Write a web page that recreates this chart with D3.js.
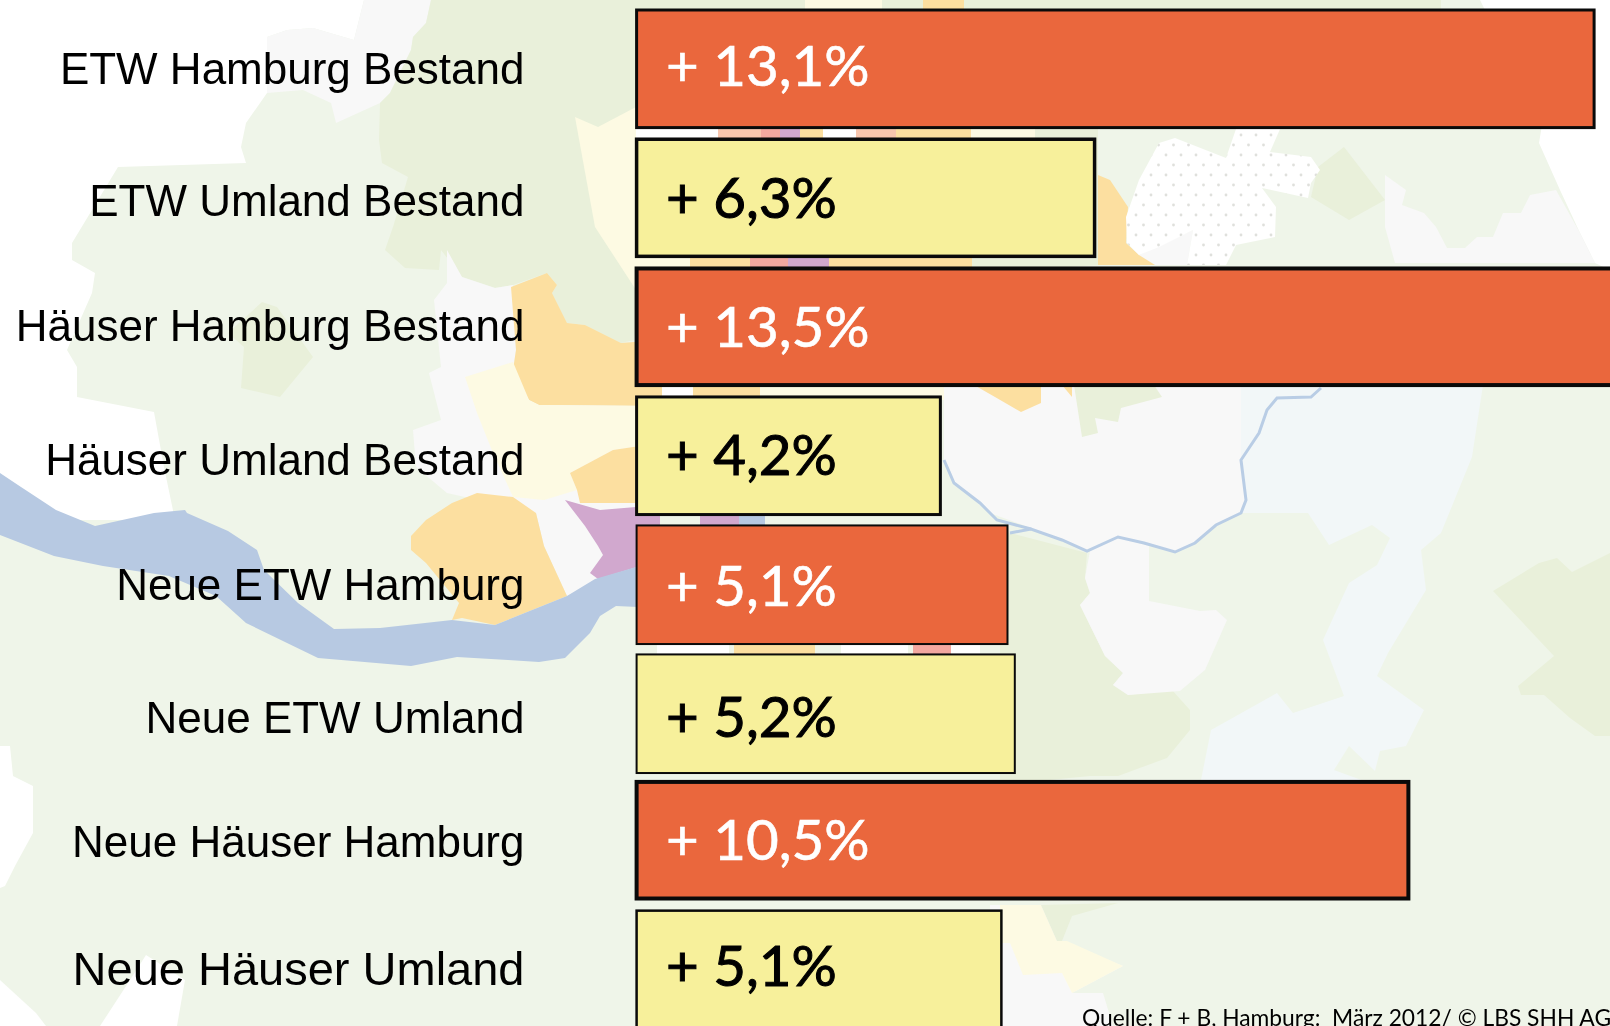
<!DOCTYPE html>
<html>
<head>
<meta charset="utf-8">
<script src="https://cdn.jsdelivr.net/npm/d3@7"></script>
<style>
  html, body { margin: 0; padding: 0; background: #fff; overflow: hidden; }
  svg { display: block; filter: blur(0.5px); }
</style>
</head>
<body>
<div id="chart"></div>
<script>
const categories = [
    'ETW Hamburg Bestand',
    'ETW Umland Bestand',
    'Häuser Hamburg Bestand',
    'Häuser Umland Bestand',
    'Neue ETW Hamburg',
    'Neue ETW Umland',
    'Neue Häuser Hamburg',
    'Neue Häuser Umland'
];

// bar lengths as measured in the picture, in percent
const values = [13.1, 6.28, 13.5, 4.17, 5.08, 5.18, 10.57, 5.0];

// printed on the bars
const valueLabels = ['+ 13,1%', '+ 6,3%', '+ 13,5%', '+ 4,2%', '+ 5,1%', '+ 5,2%', '+ 10,5%', '+ 5,1%'];

const regions = ['Hamburg', 'Umland', 'Hamburg', 'Umland', 'Hamburg', 'Umland', 'Hamburg', 'Umland'];

const source = 'Quelle: F + B, Hamburg:  März 2012/ © LBS SHH AG';

const width = 1610;
const height = 1026;

const colors = {
    Hamburg: '#ea673d',
    Umland: '#f7f09b',
    land: '#eff5e9',
    green: '#e9f0da',
    grey: '#f8f8f8',
    blue: '#f2f7f8',
    pale: '#fdfae3',
    orange: '#fcdfa0',
    salmon: '#f8c6ae',
    river: '#b7c9e2',
    purple: '#d1a8ce',
    pink: '#f3a8a0',
    white: '#ffffff'
};

// the faint map behind the bars, traced by hand: [colour, outline]
const mapShapes = [
    ['land', [[267,93],[246,123],[241,147],[246,163],[118,167],[72,243],[72,260],[95,273],[92,293],[67,350],[77,367],[77,397],[154,412],[164,467],[175,520],[0,520],[0,1026],[1610,1026],[1610,270],[1595,263],[1580,233],[1560,190],[1539,143],[1542,125],[1480,0],[364,0],[354,40],[313,28],[287,30],[267,37]]],
    ['grey', [[364,0],[431,0],[426,23],[413,37],[411,50],[390,93],[380,103],[336,123],[331,103],[303,90],[267,93],[267,37],[287,30],[313,28],[354,40]]],
    ['green', [[431,0],[1441,0],[1441,129],[1098,129],[1098,265],[640,296],[634,340],[621,343],[585,325],[567,323],[552,293],[557,285],[547,273],[513,285],[495,288],[462,277],[441,250],[439,270],[405,268],[385,250],[393,227],[408,177],[382,163],[379,140],[380,103],[390,93],[411,50],[413,37],[426,23]]],
    ['green', [[228,333],[262,302],[277,307],[313,357],[280,397],[241,388],[244,347]]],
    ['pale', [[575,117],[598,127],[636,107],[660,107],[660,296],[640,296],[595,227]]],
    ['grey', [[447,250],[462,277],[495,288],[513,285],[516,350],[513,370],[529,400],[539,405],[660,406],[660,600],[598,579],[567,596],[544,546],[536,513],[447,493],[416,467],[413,430],[441,420],[429,373],[441,367],[434,300],[447,283]]],
    ['orange', [[511,287],[547,273],[557,285],[552,293],[567,323],[585,325],[621,343],[660,340],[660,406],[539,405],[529,400],[513,370],[516,350]]],
    ['pale', [[465,377],[513,362],[529,400],[539,405],[660,406],[660,443],[613,450],[570,473],[577,490],[544,500],[513,497],[493,453],[477,413]]],
    ['orange', [[660,443],[613,450],[570,473],[577,490],[580,503],[660,503]]],
    ['orange', [[452,503],[477,493],[513,497],[536,513],[544,546],[567,596],[495,625],[462,618],[452,620],[459,603],[426,563],[411,550],[411,536],[426,520]]],
    ['purple', [[565,500],[575,513],[585,526],[598,546],[603,555],[590,573],[598,579],[660,560],[660,505],[600,510]]],
    ['river', [[0,473],[21,487],[56,510],[95,526],[154,513],[185,510],[187,513],[228,531],[257,550],[264,570],[298,603],[334,629],[380,628],[452,620],[495,625],[567,596],[595,579],[660,560],[660,608],[616,606],[600,616],[590,633],[565,658],[539,662],[508,660],[457,657],[411,666],[318,658],[246,623],[216,596],[169,576],[103,566],[54,556],[0,535]]],
    ['white', [[0,746],[10,746],[13,776],[33,786],[33,833],[15,866],[5,886],[0,888]]],
    ['white', [[0,980],[36,1013],[46,1026],[0,1026]]],
    ['white', [[100,1026],[128,983],[146,955],[185,980],[177,1026]]],
    ['orange', [[1098,175],[1110,180],[1128,207],[1126,243],[1139,255],[1154,257],[1155,265],[1098,265]]],
    ['grey', [[1385,175],[1406,190],[1402,205],[1424,213],[1436,227],[1447,248],[1465,248],[1477,237],[1493,237],[1503,213],[1521,213],[1530,195],[1556,190],[1580,233],[1595,263],[1395,263],[1385,227]]],
    ['green', [[1344,147],[1385,200],[1349,220],[1311,197],[1318,167]]],
    ['grey', [[1155,265],[1139,255],[1193,230],[1187,265]]],
    // patches that only show in the gaps between the bars
    ['white', [[636,125],[718,125],[718,140],[636,140]]],
    ['salmon', [[718,125],[761,125],[761,140],[718,140]]],
    ['pink', [[761,125],[780,125],[780,140],[761,140]]],
    ['purple', [[780,125],[800,125],[800,140],[780,140]]],
    ['orange', [[800,125],[823,125],[823,140],[800,140]]],
    ['white', [[823,125],[856,125],[856,140],[823,140]]],
    ['salmon', [[856,125],[896,125],[896,140],[856,140]]],
    ['orange', [[896,125],[971,125],[971,140],[896,140]]],
    ['pale', [[971,125],[1035,125],[1035,140],[971,140]]],
    ['orange', [[923,0],[964,0],[964,12],[923,12]]],
    ['pale', [[805,0],[882,0],[882,12],[805,12]]],
    ['pale', [[636,255],[690,255],[690,270],[636,270]]],
    ['orange', [[690,255],[750,255],[750,270],[690,270]]],
    ['pink', [[750,255],[788,255],[788,270],[750,270]]],
    ['purple', [[788,255],[829,255],[829,270],[788,270]]],
    ['orange', [[829,255],[972,255],[972,270],[829,270]]],
    ['orange', [[636,385],[662,385],[662,400],[636,400]]],
    ['white', [[662,385],[693,385],[693,400],[662,400]]],
    ['orange', [[693,385],[760,385],[760,400],[693,400]]],
    ['pale', [[760,385],[960,385],[960,400],[760,400]]],
    ['purple', [[700,512],[739,512],[739,528],[700,528]]],
    ['river', [[739,512],[765,512],[765,528],[739,528]]],
    ['white', [[657,642],[729,642],[729,657],[657,657]]],
    ['orange', [[734,642],[815,642],[815,657],[734,657]]],
    ['white', [[841,642],[908,642],[908,657],[841,657]]],
    ['pink', [[913,642],[951,642],[951,657],[913,657]]],
    ['white', [[951,642],[980,642],[980,657],[951,657]]],
    // east of the bars, south of the third one
    ['grey', [[944,385],[1241,385],[1241,460],[1246,500],[1241,513],[1216,525],[1195,543],[1175,552],[1144,543],[1118,537],[1087,551],[1031,528],[990,513],[954,483],[944,460]]],
    ['blue', [[1241,385],[1483,385],[1472,457],[1441,533],[1421,550],[1426,590],[1388,653],[1377,676],[1424,710],[1406,746],[1380,751],[1375,771],[1349,746],[1334,770],[1375,785],[1200,785],[1211,730],[1277,693],[1293,713],[1344,696],[1323,640],[1349,583],[1377,565],[1390,538],[1372,525],[1329,545],[1308,513],[1241,513],[1246,500],[1241,460]]],
    ['orange', [[974,385],[1041,385],[1041,403],[1021,412],[995,397]]],
    ['green', [[1074,385],[1154,385],[1162,397],[1121,408],[1118,422],[1095,418],[1098,433],[1082,437]]],
    ['orange', [[1062,385],[1072,385],[1072,397]]],
    ['green', [[1000,530],[1010,533],[1087,553],[1085,578],[1090,593],[1080,605],[1105,656],[1123,673],[1113,685],[1128,695],[1172,690],[1190,710],[1190,730],[1167,758],[1118,776],[1090,776],[1000,785]]],
    ['grey', [[1090,551],[1085,578],[1090,593],[1080,605],[1105,656],[1123,673],[1113,685],[1128,695],[1180,691],[1205,670],[1227,620],[1216,610],[1200,611],[1149,601],[1149,546],[1118,537]]],
    ['green', [[1493,591],[1539,563],[1557,558],[1572,572],[1610,553],[1610,736],[1595,736],[1570,718],[1544,695],[1521,695],[1518,686],[1554,656]]],
    ['grey', [[990,905],[1041,905],[1062,941],[1123,966],[1072,993],[1103,993],[1113,1026],[990,1026]]],
    ['pale', [[1000,905],[1041,905],[1057,941],[1067,941],[1123,966],[1072,993],[1062,973],[1023,975],[1010,943],[1000,943]]],
    ['green', [[1041,905],[1118,903],[1072,916],[1062,941],[1057,941]]]
];

const dottedField = [[1159,143],[1175,138],[1226,158],[1236,129],[1280,129],[1270,152],[1311,157],[1320,170],[1311,183],[1308,198],[1262,188],[1276,207],[1275,237],[1236,245],[1226,265],[1187,265],[1193,230],[1159,247],[1139,255],[1127,243],[1126,217],[1139,180]];

const smallRivers = [
    [[1321,388],[1311,397],[1277,398],[1267,410],[1259,433],[1241,460],[1246,500],[1241,513],[1216,525],[1195,543],[1175,552],[1144,543],[1118,537],[1087,551],[1062,540],[1031,529],[1010,533]],
    [[944,460],[954,483],[980,503],[990,513],[997,520],[1031,529]]
];

// each row is set a bit differently in the source
const barStroke = [3, 3.5, 4, 3, 2, 2, 4, 2.5];
const rowShift = [0, 0, 0, 0, 0, 0, -2.5, -2];
const labelBaseline = [84, 216, 341, 475, 600, 733, 857, 985];
const labelSize = [44, 44, 44, 44, 44, 44, 44, 47];
const valueBaseline = [86, 218, 347, 475, 606, 737, 860, 986];

const x = d3.scaleLinear().domain([0, 13.1]).range([636.6, 1595.6]);
const y = d3.scaleBand().domain(categories).range([8.5, 1032]).paddingInner(0.065);

const svg = d3.select('#chart').append('svg')
    .attr('width', width)
    .attr('height', height)
    .attr('viewBox', [0, 0, width, height]);

svg.append('rect').attr('width', width).attr('height', height).attr('fill', '#fff');

const pattern = svg.append('defs').append('pattern')
    .attr('id', 'dots')
    .attr('patternUnits', 'userSpaceOnUse')
    .attr('width', 15)
    .attr('height', 20);
pattern.append('rect').attr('width', 15).attr('height', 20).attr('fill', '#fff');
pattern.selectAll('circle')
    .data([[3.5, 5], [11, 15]])
    .join('circle')
    .attr('cx', d => d[0])
    .attr('cy', d => d[1])
    .attr('r', 1.4)
    .attr('fill', '#dfe0dc');

const outline = d3.line().curve(d3.curveLinearClosed);

// Background map
const map = svg.append('g');
map.selectAll('path.shape')
    .data(mapShapes)
    .join('path')
    .attr('class', 'shape')
    .attr('d', d => outline(d[1]))
    .attr('fill', d => colors[d[0]]);

map.append('path')
    .attr('d', outline(dottedField))
    .attr('fill', 'url(#dots)');

map.selectAll('path.river')
    .data(smallRivers)
    .join('path')
    .attr('class', 'river')
    .attr('d', d => d3.line()(d))
    .attr('fill', 'none')
    .attr('stroke', '#b9cde5')
    .attr('stroke-width', 3);

// Bars
svg.append('g')
    .selectAll('rect')
    .data(categories)
    .join('rect')
    .attr('x', x(0))
    .attr('y', (d, i) => y(d) + rowShift[i] + barStroke[i] / 2)
    .attr('width', (d, i) => x(values[i]) - x(0) - barStroke[i] / 2)
    .attr('height', (d, i) => y.bandwidth() - barStroke[i])
    .attr('fill', (d, i) => colors[regions[i]])
    .attr('stroke', '#0a0a0a')
    .attr('stroke-width', (d, i) => barStroke[i]);

// Row labels
svg.append('g')
    .selectAll('text')
    .data(categories)
    .join('text')
    .attr('x', 524.5)
    .attr('y', (d, i) => labelBaseline[i])
    .attr('text-anchor', 'end')
    .attr('font-family', '"Liberation Sans", Arial, sans-serif')
    .attr('font-size', (d, i) => labelSize[i])
    .attr('fill', '#000')
    .text(d => d);

// Percent labels on the bars
svg.append('g')
    .selectAll('text')
    .data(valueLabels)
    .join('text')
    .attr('x', 666)
    .attr('y', (d, i) => valueBaseline[i])
    .attr('font-family', 'Lato, "Open Sans", sans-serif')
    .attr('font-size', 56.5)
    .attr('fill', (d, i) => regions[i] === 'Hamburg' ? '#fff' : '#000')
    .attr('stroke', (d, i) => regions[i] === 'Hamburg' ? '#fff' : '#000')
    .attr('stroke-width', (d, i) => regions[i] === 'Hamburg' ? 0.6 : 1)
    .text(d => d);

svg.append('text')
    .attr('x', 1082)
    .attr('y', 1025.5)
    .attr('font-family', 'Lato, "Open Sans", sans-serif')
    .attr('font-size', 22.8)
    .attr('fill', '#000')
    .attr('xml:space', 'preserve')
    .text(source);
</script>
</body>
</html>
